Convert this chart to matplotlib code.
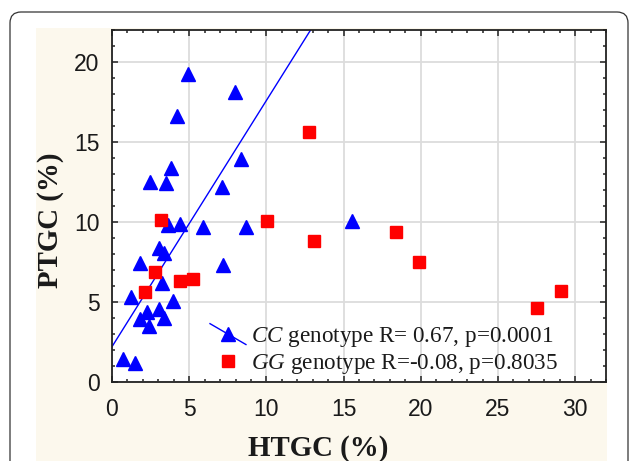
import matplotlib
matplotlib.use('Agg')
import matplotlib.pyplot as plt
import matplotlib.patches as patches
import matplotlib.transforms as mtransforms
from matplotlib.lines import Line2D
from matplotlib.legend_handler import HandlerLine2D
from matplotlib.ticker import MultipleLocator
import numpy as np

# CC genotype (blue triangles)
cc_htgc = [0.69, 1.49, 1.23, 1.84, 1.82, 2.27, 2.42, 3.07, 3.35, 3.93, 3.24,
           3.07, 3.39, 3.61, 4.43, 5.88, 7.18, 8.69, 4.91, 7.94, 4.22, 8.37,
           3.83, 2.47, 3.50, 7.11, 15.57]
cc_ptgc = [1.40, 1.19, 5.31, 7.44, 3.90, 4.34, 3.48, 4.56, 3.96, 5.06, 6.15,
           8.38, 8.06, 9.79, 9.86, 9.69, 7.29, 9.69, 19.23, 18.13, 16.63, 13.90,
           13.38, 12.52, 12.44, 12.15, 10.06]

# GG genotype (red squares)
gg_htgc = [3.18, 2.79, 2.14, 4.43, 5.23, 12.76, 13.10, 18.40, 19.88, 27.51,
           29.09, 10.06]
gg_ptgc = [10.10, 6.88, 5.63, 6.29, 6.42, 15.59, 8.77, 9.38, 7.48, 4.59,
           5.69, 10.06]

# fitted line for CC as drawn in the figure
cc_fit_intercept = 2.19
cc_fit_slope = 1.54

cc_label = r'$CC$ genotype R= 0.67, p=0.0001'
gg_label = r'$GG$ genotype R=-0.08, p=0.8035'

xticks = [0, 5, 10, 15, 20, 25, 30]
yticks = [0, 5, 10, 15, 20]

plt.rcParams['font.family'] = ['Liberation Sans', 'DejaVu Sans']
plt.rcParams['mathtext.fontset'] = 'custom'
plt.rcParams['mathtext.rm'] = 'Liberation Serif'
plt.rcParams['mathtext.it'] = 'Liberation Serif:italic'


class DiagonalLineHandler(HandlerLine2D):
    """Legend entry drawn as a slanted line with the marker in the middle."""

    def create_artists(self, legend, orig_handle, xdescent, ydescent,
                       width, height, fontsize, trans):
        xc = -xdescent + width / 2
        yc = -ydescent + height / 2
        dy = 0.45 * fontsize
        line = Line2D([-xdescent, -xdescent + width], [yc + dy, yc - dy],
                      color=orig_handle.get_color(), lw=orig_handle.get_linewidth())
        mark = Line2D([xc], [yc], marker=orig_handle.get_marker(), ls='none',
                      color=orig_handle.get_color(),
                      markersize=orig_handle.get_markersize())
        line.set_transform(trans)
        mark.set_transform(trans)
        return [line, mark]


W, H = 629, 461
fig = plt.figure(figsize=(W / 100, H / 100), dpi=100)
fig.patch.set_facecolor('white')

# card border and cream panel (pixel coordinates)
ident = mtransforms.IdentityTransform()
card = patches.FancyBboxPatch((10, -30), 618, H - 12 + 30,
                              boxstyle='round,pad=0,rounding_size=11',
                              fc='white', ec='#333333', lw=0.9, transform=ident,
                              zorder=-3)
fig.add_artist(card)
panel = patches.Rectangle((36, -10), 571, H - 28 + 10, fc='#fcf8ed', ec='none',
                          transform=ident, zorder=-2)
fig.add_artist(panel)

ax = fig.add_axes([112 / W, (H - 381.7) / H, 494 / W, 351.7 / H])
ax.set_facecolor('white')

ax.grid(True, which='major', color='#dcdcdc', lw=1.3, zorder=0)
ax.set_axisbelow(True)

xs = np.array([0, 32])
ax.plot(xs, cc_fit_intercept + cc_fit_slope * xs, color='#0000ff', lw=1.0,
        zorder=2)
ax.plot(cc_htgc, cc_ptgc, ls='none', marker='^', ms=9.6, color='#0000ff',
        zorder=3)
ax.plot(gg_htgc, gg_ptgc, ls='none', marker='s', ms=8.9, color='#ff0000',
        zorder=3)

ax.set_xlim(0, 32)
ax.set_ylim(0, 22)
ax.set_xticks(xticks)
ax.set_yticks(yticks)
ax.xaxis.set_minor_locator(MultipleLocator(1))
ax.yaxis.set_minor_locator(MultipleLocator(1))
ax.tick_params(which='both', direction='in', top=True, right=True,
               color='#222222', width=1.1)
ax.tick_params(which='major', length=4.5)
ax.tick_params(which='minor', length=2.5)
ax.tick_params(axis='x', labelsize=16.5, pad=12, labelcolor='#1a1a1a')
ax.tick_params(axis='y', labelsize=16.5, pad=9, labelcolor='#1a1a1a')
for s in ax.spines.values():
    s.set_linewidth(1.3)
    s.set_color('#222222')

handles = [Line2D([], [], color='#0000ff', lw=1.0, marker='^', ms=9.6),
           Line2D([], [], color='#ff0000', ls='none', marker='s', ms=8.9)]
leg = ax.legend(handles, [cc_label, gg_label], loc='lower left',
                bbox_to_anchor=((210 - 112) / 494, (381.7 - 376) / 351.7),
                frameon=False, borderpad=0, borderaxespad=0,
                handlelength=1.55, handletextpad=0.2, labelspacing=0.12,
                prop={'family': 'Liberation Serif', 'size': 16.7},
                handler_map={handles[0]: DiagonalLineHandler()})
for t in leg.get_texts():
    t.set_color('#1a1a1a')

fig.text(318 / W, 5 / H, 'HTGC (%)', ha='center', va='baseline',
         family='Liberation Serif', weight='bold', size=20.8, color='#1a1a1a')
fig.text(50 / W, (H - 220) / H, 'PTGC (%)', ha='center', va='center',
         rotation=90, family='Liberation Serif', weight='bold', size=20.8,
         color='#1a1a1a')

fig.savefig('out.png', dpi=100, facecolor=fig.get_facecolor())
